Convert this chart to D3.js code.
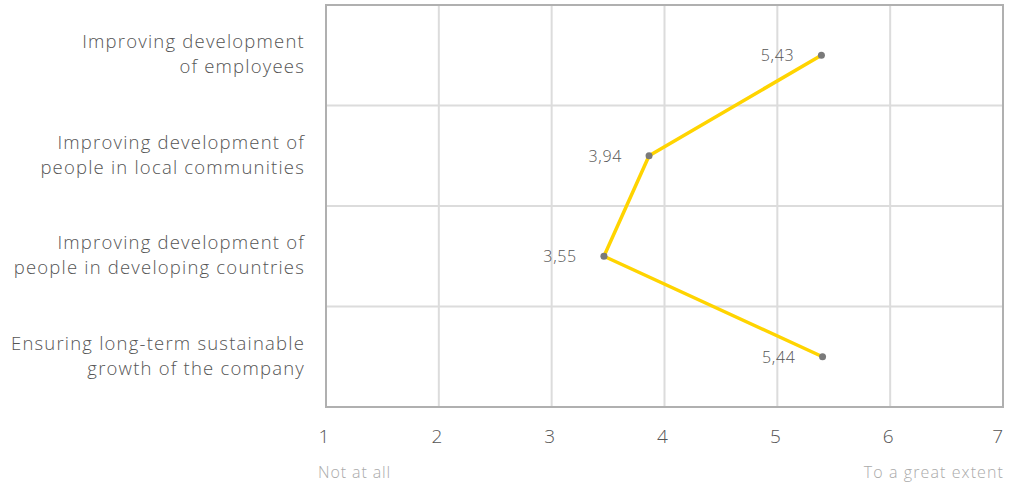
<!DOCTYPE html>
<html><head><meta charset="utf-8">
<script src="https://cdn.jsdelivr.net/npm/d3@7/dist/d3.min.js"></script>
<style>body{margin:0;background:#fff}svg{display:block}</style>
</head><body>
<script>
const categories = [
  ["Improving development", "of employees"],
  ["Improving development of", "people in local communities"],
  ["Improving development of", "people in developing countries"],
  ["Ensuring long-term sustainable", "growth of the company"]
];
const values = [5.43, 3.94, 3.55, 5.44];
const valueLabels = ["5,43", "3,94", "3,55", "5,44"];
const ticks = [1, 2, 3, 4, 5, 6, 7];
const endLabels = ["Not at all", "To a great extent"];

const W = 1013, H = 486;
const L = 326, R = 1003, T = 5, B = 407;
const font = "'Open Sans', sans-serif";

const svg = d3.select("body").append("svg").attr("width", W).attr("height", H);

const x = d3.scaleLinear().domain([1, 7]).range([L, R]);
const xp = d3.scaleLinear().domain([1, 7]).range([L - 17, R]);
const y = d3.scaleBand().domain(d3.range(categories.length)).range([T, B]);

svg.append("g").selectAll("line").data(ticks.slice(1, -1)).join("line")
  .attr("x1", d => x(d)).attr("x2", d => x(d)).attr("y1", T).attr("y2", B)
  .attr("stroke", "#dcdcdc").attr("stroke-width", 2);
svg.append("g").selectAll("line").data(d3.range(1, categories.length)).join("line")
  .attr("x1", L).attr("x2", R).attr("y1", d => y(d)).attr("y2", d => y(d))
  .attr("stroke", "#dcdcdc").attr("stroke-width", 2);
svg.append("rect").attr("x", L).attr("y", T).attr("width", R - L).attr("height", B - T)
  .attr("fill", "none").attr("stroke", "#b0b0b0").attr("stroke-width", 2);

svg.append("g").selectAll("text").data(ticks).join("text")
  .attr("x", (d, i) => i === ticks.length - 1 ? x(d) : x(d) - 2)
  .attr("y", 443)
  .attr("text-anchor", (d, i) => i === ticks.length - 1 ? "end" : "middle")
  .attr("font-family", font).attr("font-weight", 300).attr("font-size", 19).attr("fill", "#555")
  .text(d => d);

svg.append("text").attr("x", L - 8).attr("y", 478).attr("font-family", font).attr("font-weight", 300)
  .attr("font-size", 16).attr("letter-spacing", 0.9).attr("fill", "#aaa").text(endLabels[0]);
svg.append("text").attr("x", R + 1).attr("y", 478).attr("text-anchor", "end").attr("font-family", font)
  .attr("font-weight", 300).attr("font-size", 16).attr("letter-spacing", 1.1).attr("fill", "#aaa").text(endLabels[1]);

const cat = svg.append("g").selectAll("text").data(categories).join("text")
  .attr("x", 305).attr("y", (d, i) => y(i) + y.bandwidth() / 2 - 7)
  .attr("text-anchor", "end").attr("font-family", font).attr("font-weight", 300).attr("font-size", 18.5)
  .attr("letter-spacing", 1.2).attr("fill", "#555");
cat.selectAll("tspan").data(d => d).join("tspan")
  .attr("x", 305).attr("dy", (d, i) => i === 0 ? "0" : "25")
  .text(d => d);

const cy = i => y(i) + y.bandwidth() / 2;
svg.append("path").datum(values)
  .attr("d", d3.line().x(d => xp(d)).y((d, i) => cy(i)))
  .attr("fill", "none").attr("stroke", "#ffd400").attr("stroke-width", 3.5)
  .attr("stroke-linejoin", "round");

svg.append("g").selectAll("circle").data(values).join("circle")
  .attr("cx", d => xp(d)).attr("cy", (d, i) => cy(i)).attr("r", 3.5)
  .attr("fill", "#7a7a7a");

svg.append("g").selectAll("text").data(values).join("text")
  .attr("x", d => xp(d) - 27).attr("y", (d, i) => cy(i) + 6)
  .attr("text-anchor", "end").attr("font-family", font).attr("font-weight", 300).attr("font-size", 16)
  .attr("letter-spacing", 0.7).attr("fill", "#555").text((d, i) => valueLabels[i]);
</script>
</body></html>
